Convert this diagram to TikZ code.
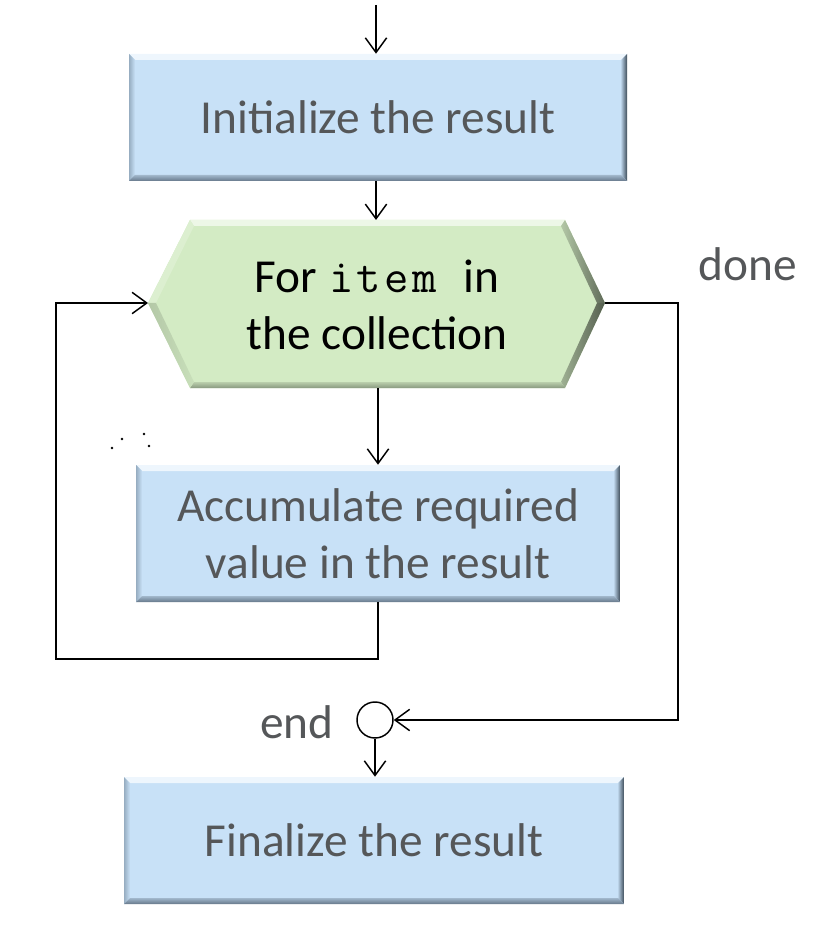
\documentclass[tikz,border=0pt]{standalone}
\usepackage{fontspec}
\setmainfont{Carlito}
\usetikzlibrary{arrows.meta}
\definecolor{boxmain}{HTML}{C8E1F7}
\definecolor{boxlight}{HTML}{EEF6FD}
\definecolor{boxleft}{HTML}{97ADC1}
\definecolor{boxright}{HTML}{3E4C59}
\definecolor{boxbottom}{HTML}{66788A}
\definecolor{hexmain}{HTML}{D3EBC4}
\definecolor{txtgray}{HTML}{555759}
\tikzset{
  arr/.style={line width=1.1pt, -{Straight Barb[length=11pt,width=16pt,line width=1.1pt]}},
  lbl/.style={font=\fontsize{35.5}{42.75}\selectfont, text=txtgray, inner sep=0pt},
  procbox/.style={rectangle, inner sep=0pt, align=center,
    font=\fontsize{35.5}{42.75}\selectfont, text=txtgray,
    path picture={
      \coordinate (pnw) at (path picture bounding box.north west);
      \coordinate (pne) at (path picture bounding box.north east);
      \coordinate (pse) at (path picture bounding box.south east);
      \coordinate (psw) at (path picture bounding box.south west);
      \coordinate (inw) at ([shift={(4.5pt,-4.5pt)}]pnw);
      \coordinate (ine) at ([shift={(-4.5pt,-4.5pt)}]pne);
      \coordinate (ise) at ([shift={(-4.5pt,4.5pt)}]pse);
      \coordinate (isw) at ([shift={(4.5pt,4.5pt)}]psw);
      \fill[boxmain] (pnw) rectangle (pse);
      \fill[boxlight] (pnw) -- (pne) -- (ine) -- (inw) -- cycle;
      \shade[left color=boxleft, right color=boxmain] (pnw) -- (inw) -- (isw) -- (psw) -- cycle;
      \shade[left color=boxmain!70!boxleft, right color=boxright] (pne) -- (pse) -- (ise) -- (ine) -- cycle;
      \shade[top color=boxmain!60!boxbottom, bottom color=boxbottom] (psw) -- (isw) -- (ise) -- (pse) -- cycle;
    }},
}
\begin{document}
\begin{tikzpicture}[x=0.75pt,y=-0.75pt]
\useasboundingbox (0,0) rectangle (822,937);

% process boxes
\node[procbox, minimum width=373.5pt, minimum height=95.25pt] (b1) at (378,117.5) {Initialize the result};
\node[procbox, minimum width=363pt, minimum height=102.75pt] (b2) at (378,533.5) {Accumulate required\\value in the result};
\node[procbox, minimum width=375pt, minimum height=95.25pt] (b3) at (374,840.5) {Finalize the result};

% hexagon (loop header)
\coordinate (hexL) at (148,303);
\coordinate (hexTL) at (190,220);
\coordinate (hexT) at (376,220);
\coordinate (hexTR) at (565,220);
\coordinate (hexR) at (605,303);
\coordinate (hexBR) at (565,388);
\coordinate (hexB) at (378,388);
\coordinate (hexBL) at (190,388);
\coordinate (ihL) at (156,303);
\coordinate (ihTL) at (194,226);
\coordinate (ihTR) at (561,226);
\coordinate (ihR) at (597,303);
\coordinate (ihBR) at (561,382);
\coordinate (ihBL) at (194,382);
\fill[hexmain] (hexL) -- (hexTL) -- (hexTR) -- (hexR) -- (hexBR) -- (hexBL) -- cycle;
\fill[hexmain!40!white] (hexTL) -- (hexTR) -- (ihTR) -- (ihTL) -- cycle;
\fill[hexmain!80!white] (hexL) -- (hexTL) -- (ihTL) -- (ihL) -- cycle;
\shade[left color=hexmain!85!black, right color=hexmain!45!black] (hexTR) -- (hexR) -- (ihR) -- (ihTR) -- cycle;
\shade[left color=hexmain!75!black, right color=hexmain!40!black] (hexR) -- (hexBR) -- (ihBR) -- (ihR) -- cycle;
\shade[top color=hexmain!88!black, bottom color=hexmain!65!black] (hexBR) -- (hexBL) -- (ihBL) -- (ihBR) -- cycle;
\shade[left color=hexmain!85!black, right color=hexmain!95!black] (hexBL) -- (hexL) -- (ihL) -- (ihBL) -- cycle;
\node[align=center, inner sep=0pt, font=\fontsize{35.5}{42.75}\selectfont, text=black] (hex) at (377,305)
  {For {\ttfamily\kern1pt i\kern2.5pt t\kern2.5pt e\kern2.5pt m\ \kern2pt}in\\the collection};

% labels
\node[lbl] (done) at (748,264) {done};
\node[lbl] (endl) at (297,722) {end};
\node[circle, draw, line width=1.1pt, fill=white, minimum size=27pt, inner sep=0pt] (endc) at (375,720) {};

% free ends
\coordinate (start) at (376,5);
\coordinate (loopBL) at (56,659);
\coordinate (loopR) at (678,720);

% connectors
\draw[arr] (start) -- (start |- b1.north);
\draw[arr] (b1.south -| hexT) -- (hexT);
\draw[arr] (hexB) -- (hexB |- b2.north);
\draw[arr] (b2.south) |- (loopBL) |- (hexL);
\draw[arr] (hexR) -| (loopR) -- (endc.east);
\draw[arr] (endc.south) -- (endc.south |- b3.north);

% stray dots
\fill (112,448) circle (1pt);
\fill (122,439) circle (1pt);
\fill (144,434) circle (1pt);
\fill (149,446) circle (1pt);
\end{tikzpicture}
\end{document}
